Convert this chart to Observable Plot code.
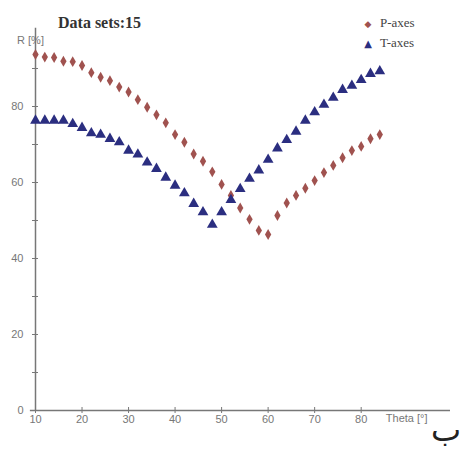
<!DOCTYPE html>
<html><head><meta charset="utf-8">
<script src="https://cdn.jsdelivr.net/npm/d3@7"></script>
<script src="https://cdn.jsdelivr.net/npm/@observablehq/plot@0.6"></script>
<style>
body{margin:0;background:#fff;}
#wrap{position:relative;width:467px;height:453px;overflow:hidden;}
#title{position:absolute;left:58px;top:14px;font:bold 16px "Liberation Serif",serif;color:#333;}
.leg{position:absolute;left:356px;font:13px "Liberation Serif",serif;color:#444;white-space:nowrap;}
.leg span{display:inline-block;width:24px;text-align:center;font-family:"DejaVu Sans",sans-serif;}
#ba{position:absolute;left:431px;top:414px;font:32px/1 "DejaVu Sans",sans-serif;color:#222;}
</style></head><body>
<div id="wrap"></div>
<script>
const theta = [10,12,14,16,18,20,22,24,26,28,30,32,34,36,38,40,42,44,46,48,50,52,54,56,58,60,62,64,66,68,70,72,74,76,78,80,82,84];
const pAxes = [93.7,93.0,92.9,91.9,91.8,90.8,88.9,87.7,86.8,85.1,83.8,81.8,79.8,77.8,75.7,72.6,70.6,67.5,65.6,62.8,59.5,56.6,53.3,50.3,47.4,46.3,51.3,54.6,56.6,58.5,60.5,62.6,64.5,66.5,68.4,69.5,71.5,72.6];
const tAxes = [76.3,76.3,76.3,76.3,75.4,74.4,73.0,72.6,71.5,70.6,68.4,67.4,65.3,63.6,61.3,59.2,57.2,54.4,52.2,48.9,52.2,55.4,58.3,61.0,63.2,66.0,69.0,71.2,73.4,76.3,78.5,80.5,82.3,84.4,85.5,87.0,88.6,89.3];
const xTicks = [10,20,30,40,50,60,70,80];
const yTicks = [0,10,20,30,40,50,60,70,80,90];
const yLabels = [0,20,40,60,80];
const titleText = "Data sets:15";
const seriesNames = ["P-axes","T-axes"];
const colors = ["#a0524f","#2b2e80"];

const pData = theta.map((t,i)=>({theta:t, R:pAxes[i]}));
const tData = theta.map((t,i)=>({theta:t, R:tAxes[i]}));

const chart = Plot.plot({
  width:467, height:453,
  marginLeft:35, marginRight:17, marginTop:30, marginBottom:43,
  x:{domain:[10,99.2]},
  y:{domain:[0,100]},
  style:{fontFamily:"'Liberation Sans', Arial, sans-serif", fontSize:"11px", color:"#777", background:"#fff"},
  marks:[
    Plot.ruleY([0],{x1:8.9, x2:99.2, stroke:"#777", strokeWidth:1.5}),
    Plot.ruleX([10],{y1:0, y2:100.6, stroke:"#777", strokeWidth:1.5}),
    Plot.axisY({ticks:yTicks, tickSize:6, dx:3, tickFormat:()=>"", label:null, stroke:"#777"}),
    Plot.axisY({ticks:yLabels, tickSize:0, tickPadding:12, label:null, fill:"#777"}),
    Plot.axisX({ticks:xTicks, tickSize:6, dy:-3, tickFormat:()=>"", label:null, stroke:"#777"}),
    Plot.axisX({ticks:xTicks, tickSize:0, tickPadding:5, label:null, fill:"#777"}),
    Plot.text(["Theta [°]"], {frameAnchor:"bottom-right", textAnchor:"end", dx:-23, dy:11, fill:"#777"}),
    Plot.text(["R [%]"], {frameAnchor:"top-left", textAnchor:"middle", dx:-5, dy:6, fill:"#777"}),
    Plot.dot(pData,{x:"theta", y:"R", symbol:"diamond", fill:colors[0], r:3.3}),
    Plot.dot(tData,{x:"theta", y:"R", symbol:"triangle", fill:colors[1], r:4})
  ]
});

const wrap = document.getElementById("wrap");
wrap.appendChild(chart);
const t = document.createElement("div"); t.id="title"; t.textContent = titleText; wrap.appendChild(t);
const syms = ["◆","▲"];
seriesNames.forEach((n,i)=>{
  const d = document.createElement("div"); d.className="leg"; d.style.top = (15+i*20)+"px";
  d.innerHTML = `<span style="color:${colors[i]};font-size:${i?10:9}px">${syms[i]}</span>`;
  d.appendChild(document.createTextNode(n));
  wrap.appendChild(d);
});
const b = document.createElement("div"); b.id="ba"; b.textContent="ب"; wrap.appendChild(b);
</script>
</body></html>
